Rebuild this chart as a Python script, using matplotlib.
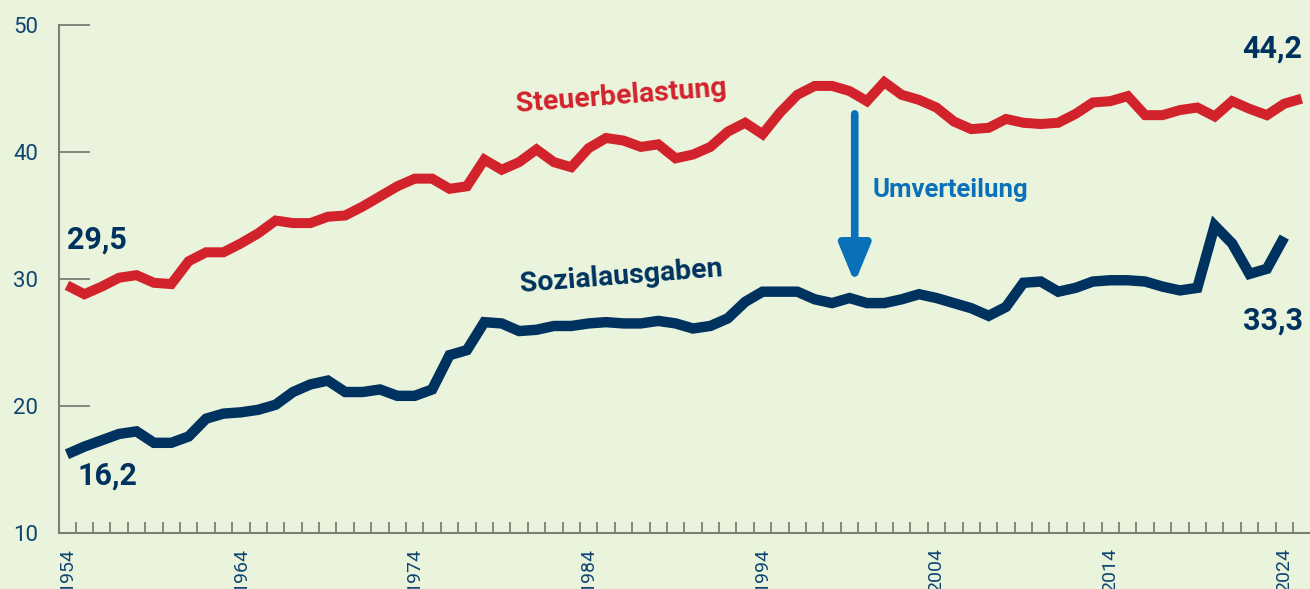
import numpy as np
import matplotlib.pyplot as plt
from matplotlib.ticker import FixedLocator

# Daten (Anteil am BIP in %)
jahre_steuer = list(range(1954, 2026))
steuer = [29.5, 28.8, 29.4, 30.1, 30.3, 29.7, 29.6, 31.4, 32.1, 32.1,
          32.8, 33.6, 34.6, 34.4, 34.4, 34.9, 35.0, 35.7, 36.5, 37.3,
          37.9, 37.9, 37.1, 37.3, 39.4, 38.6, 39.2, 40.2, 39.2, 38.8,
          40.3, 41.1, 40.9, 40.4, 40.6, 39.5, 39.8, 40.4, 41.6, 42.3,
          41.4, 43.1, 44.5, 45.2, 45.2, 44.8, 44.0, 45.5, 44.5, 44.1,
          43.5, 42.4, 41.8, 41.9, 42.6, 42.3, 42.2, 42.3, 43.0, 43.9,
          44.0, 44.4, 42.9, 42.9, 43.3, 43.5, 42.8, 44.0, 43.4, 42.9,
          43.8, 44.2]

jahre_sozial = list(range(1954, 2025))
sozial = [16.2, 16.8, 17.3, 17.8, 18.0, 17.1, 17.1, 17.6, 19.0, 19.4,
          19.5, 19.7, 20.1, 21.1, 21.7, 22.0, 21.1, 21.1, 21.3, 20.8,
          20.8, 21.3, 24.0, 24.4, 26.6, 26.5, 25.9, 26.0, 26.3, 26.3,
          26.5, 26.6, 26.5, 26.5, 26.7, 26.5, 26.1, 26.3, 26.9, 28.2,
          29.0, 29.0, 29.0, 28.4, 28.1, 28.5, 28.1, 28.1, 28.4, 28.8,
          28.5, 28.1, 27.7, 27.1, 27.8, 29.7, 29.8, 29.0, 29.3, 29.8,
          29.9, 29.9, 29.8, 29.4, 29.1, 29.3, 34.2, 32.8, 30.4, 30.8,
          33.3]

tick_jahre = list(range(1954, 2025, 10))

# Farben
bg = '#eaf4dc'
rot = '#d2232c'
navy = '#00325f'
blau = '#0a70b8'
textfarbe = '#0f4573'
grau = '#7d7d75'

plt.rcParams['font.family'] = ['Roboto', 'DejaVu Sans']

fig = plt.figure(figsize=(13.1, 5.89), dpi=100, facecolor=bg)
ax = fig.add_axes([0.045, 0.0951, 0.955, 0.8625], facecolor=bg)

ax.plot(jahre_steuer, steuer, color=rot, linewidth=7.2,
        solid_capstyle='butt', solid_joinstyle='miter')
ax.plot(jahre_sozial, sozial, color=navy, linewidth=7.5,
        solid_capstyle='butt', solid_joinstyle='miter')

ax.set_xlim(1953.54, 2025.48)
ax.set_ylim(10, 50)

# Achsen
for s in ['top', 'right']:
    ax.spines[s].set_visible(False)
for s in ['left', 'bottom']:
    ax.spines[s].set_color(grau)
    ax.spines[s].set_linewidth(1.5)

ax.set_yticks([10, 20, 30, 40, 50])
ax.tick_params(axis='y', direction='in', length=22, width=1.3, color=grau,
               labelsize=16, labelcolor=textfarbe, pad=15)

ax.xaxis.set_major_locator(FixedLocator(tick_jahre))
ax.xaxis.set_minor_locator(FixedLocator(np.arange(1954.5, 2025, 1)))
ax.set_xticklabels([str(j) for j in tick_jahre], rotation=90)
ax.tick_params(axis='x', which='major', length=0, labelsize=14,
               labelcolor=textfarbe, pad=11)
ax.tick_params(axis='x', which='minor', direction='in', length=8,
               width=1.3, color=grau)

# Beschriftungen
ax.text(1954, 32.4, '29,5', color=navy, fontsize=22, fontweight='bold',
        ha='left', va='baseline')
ax.text(1954.6, 13.8, '16,2', color=navy, fontsize=22, fontweight='bold',
        ha='left', va='baseline')
ax.text(2025.05, 47.4, '44,2', color=navy, fontsize=22, fontweight='bold',
        ha='right', va='baseline')
ax.text(2025.05, 26.0, '33,3', color=navy, fontsize=22, fontweight='bold',
        ha='right', va='baseline')

ax.text(1985.9, 44.4, 'Steuerbelastung', color=rot, fontsize=20.5,
        fontweight='bold', ha='center', va='center', rotation=4.5,
        rotation_mode='anchor')
ax.text(1985.9, 30.2, 'Sozialausgaben', color=navy, fontsize=20.5,
        fontweight='bold', ha='center', va='center', rotation=4.5,
        rotation_mode='anchor')

# Pfeil Umverteilung
ax.annotate('', xy=(1999.3, 29.7), xytext=(1999.3, 43.0),
            arrowprops=dict(arrowstyle='-|>,head_length=2.3,head_width=0.95',
                            color=blau, lw=5.5, shrinkA=0, shrinkB=0))
ax.text(2000.3, 37.0, 'Umverteilung', color=blau, fontsize=18.5,
        fontweight='bold', ha='left', va='center')

fig.savefig('out.png', dpi=100, facecolor=bg)
